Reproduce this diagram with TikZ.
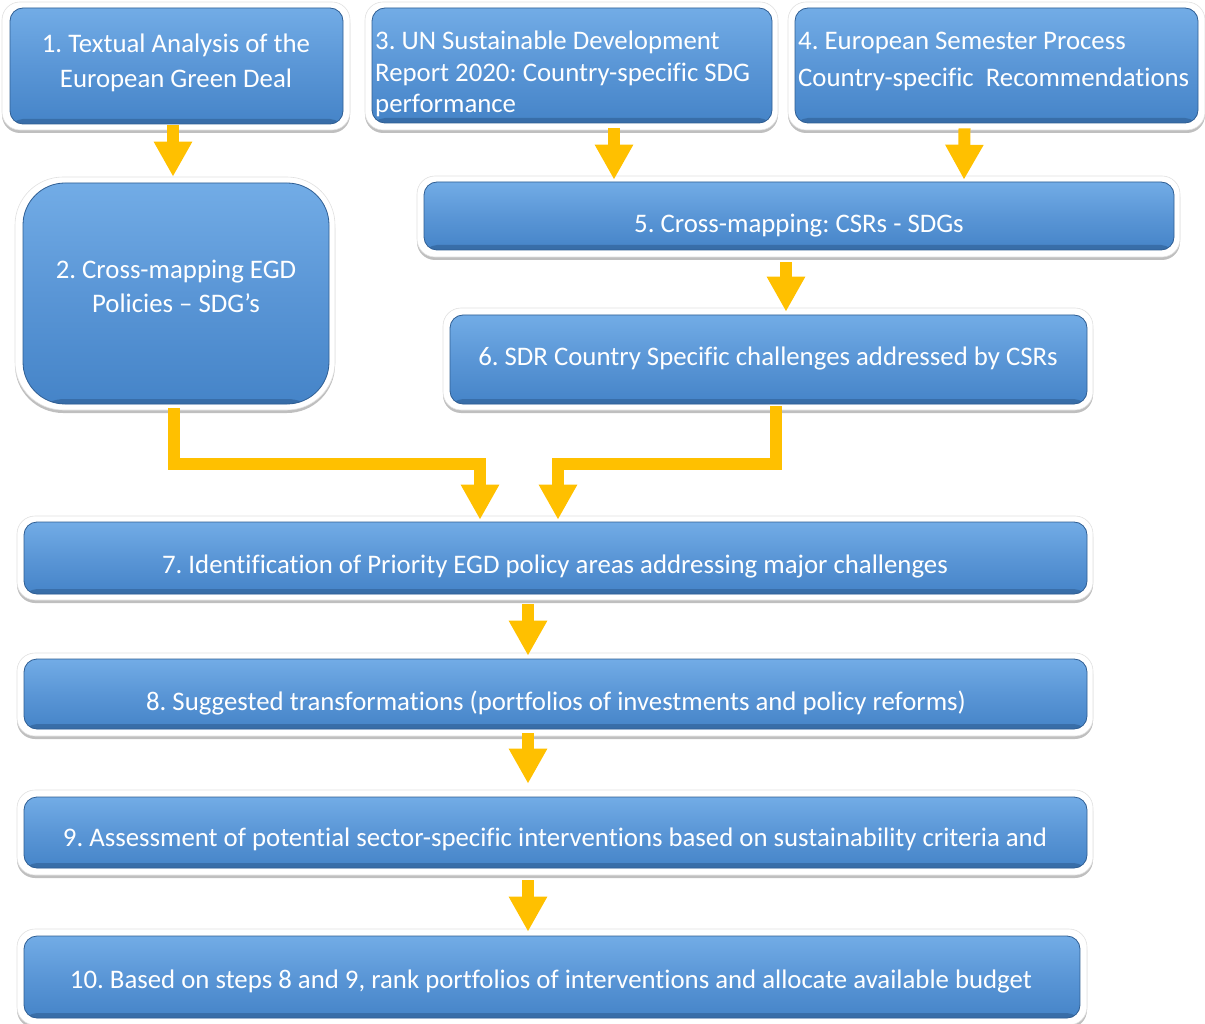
\documentclass[tikz,border=0pt]{standalone}
\usepackage{fontspec}
\setmainfont[Ligatures=NoCommon]{Carlito}
\usetikzlibrary{arrows.meta,shadows,calc}
\definecolor{gold}{HTML}{FFC000}
\definecolor{btop}{HTML}{72ACE6}
\definecolor{bmid}{HTML}{5A96D6}
\definecolor{bbot}{HTML}{4584C8}
\definecolor{bedge}{HTML}{2F5E93}
\frenchspacing
\tikzset{
 frame/.style={draw=black!12, line width=0.6pt, fill=white, inner sep=0pt, rounded corners=18pt,
   drop shadow={shadow xshift=0pt, shadow yshift=-3pt, opacity=0.25, fill=black}},
 bluebox/.style={inner sep=0pt, rounded corners=13pt, top color=btop, bottom color=bbot, middle color=bmid,
   draw=bedge, line width=0.8pt,
   path picture={\fill[bedge,opacity=0.6] ([yshift=-1pt]path picture bounding box.south west) rectangle ([yshift=5pt]path picture bounding box.south east);}},
 txt/.style={text=white, inner sep=0pt, font=\fontsize{26.8}{35}\selectfont},
 flow/.style={draw=gold, line width=12pt, -{Triangle[width=36pt,length=35pt]}, line join=miter}
}
\begin{document}
\begin{tikzpicture}[x=1pt,y=-1pt]
\useasboundingbox (0,0) rectangle (1205,1024);
\clip (0,0) rectangle (1205,1024);
% frames
\node[frame, minimum width=348pt, minimum height=128pt] (f1) at (176,66) {};
\node[frame, minimum width=413pt, minimum height=128pt] (f3) at (571.5,66) {};
\node[frame, minimum width=417pt, minimum height=128pt] (f4) at (996.5,66) {};
\node[frame, rounded corners=48pt, minimum width=320pt, minimum height=233pt] (f2) at (175,293.5) {};
\node[frame, minimum width=763pt, minimum height=81pt] (f5) at (798.5,216.5) {};
\node[frame, minimum width=650pt, minimum height=102pt] (f6) at (768,359) {};
\node[frame, minimum width=1076pt, minimum height=84pt] (f7) at (555,558) {};
\node[frame, minimum width=1076pt, minimum height=83pt] (f8) at (555,694.5) {};
\node[frame, minimum width=1076pt, minimum height=85pt] (f9) at (555,832.5) {};
\node[frame, minimum width=1070pt, minimum height=96pt] (f10) at (552,977) {};
% blue boxes
\node[bluebox, minimum width=333pt, minimum height=116pt] (b1) at (176.5,66) {};
\node[bluebox, minimum width=400pt, minimum height=115pt] (b3) at (572,65.5) {};
\node[bluebox, minimum width=403pt, minimum height=115pt] (b4) at (996.5,65.5) {};
\node[bluebox, rounded corners=42pt, minimum width=306pt, minimum height=221pt] (b2) at (176,293.5) {};
\node[bluebox, minimum width=750pt, minimum height=68pt] (b5) at (799,216) {};
\node[bluebox, minimum width=637pt, minimum height=89pt] (b6) at (768.5,359.5) {};
\node[bluebox, minimum width=1063pt, minimum height=72pt] (b7) at (555.5,558) {};
\node[bluebox, minimum width=1063pt, minimum height=70pt] (b8) at (555.5,694) {};
\node[bluebox, minimum width=1063pt, minimum height=71pt] (b9) at (555.5,832.5) {};
\node[bluebox, minimum width=1056pt, minimum height=82pt] (b10) at (552,977) {};
% texts (multi-line nodes: base = last line's baseline)
\node[txt, align=center, anchor=base] (t1) at (176,88) {1. Textual Analysis of the\\European Green Deal};
\node[txt, align=left, anchor=base west, font=\fontsize{26.8}{31.5}\selectfont] (t3) at (375,113) {3. UN Sustainable Development\\Report 2020: Country-specific SDG\\performance};
\node[txt, align=left, anchor=base west, font=\fontsize{26.8}{37}\selectfont] (t4) at (798,87) {4. European Semester Process\\Country-specific~ Recommendations};
\node[txt, align=center, anchor=base] (t2) at (176,313) {2. Cross-mapping EGD\\Policies -- SDG’s};
\node[txt, anchor=base] (t5) at (799,233) {5. Cross-mapping: CSRs - SDGs};
\node[txt, anchor=base] (t6) at (768,366) {6. SDR Country Specific challenges addressed by CSRs};
\node[txt, anchor=base] (t7) at (555,573) {7. Identification of Priority EGD policy areas addressing major challenges};
\node[txt, anchor=base] (t8) at (556,710) {8. Suggested transformations (portfolios of investments and policy reforms)};
\node[txt, anchor=base] (t9) at (555,846) {9. Assessment of potential sector-specific interventions based on sustainability criteria and};
\node[txt, anchor=base] (t10) at (551,988) {10. Based on steps 8 and 9, rank portfolios of interventions and allocate available budget};
% arrows
\draw[flow] ($(b1.south)+(-3.5,1)$) -- ($(f2.north)+(-2,0)$);
\draw[flow] ($(b3.south)+(42,5)$) -- ($(f5.north)+(-184.5,4)$);
\draw[flow] ($(b4.south)+(-32,5)$) -- ($(f5.north)+(165.5,4)$);
\draw[flow] ($(f5.south)+(-12.5,5)$) -- ($(f6.north)+(18,4)$);
\draw[flow] ($(b2.south)+(-2,4)$) |- ++(0,56) -| ($(f7.north)+(-75,4)$);
\draw[flow] ($(b6.south)+(7.5,2)$) |- ++(0,58) -| ($(f7.north)+(3,4)$);
\draw[flow] ($(f7.south)+(-27,4)$) -- ($(f8.north)+(-27,3)$);
\draw[flow] ($(f8.south)+(-27,-3)$) -- ($(f9.north)+(-27,-6)$);
\draw[flow] ($(f9.south)+(-27,5)$) -- ($(f10.north)+(-24,3)$);
\end{tikzpicture}
\end{document}
